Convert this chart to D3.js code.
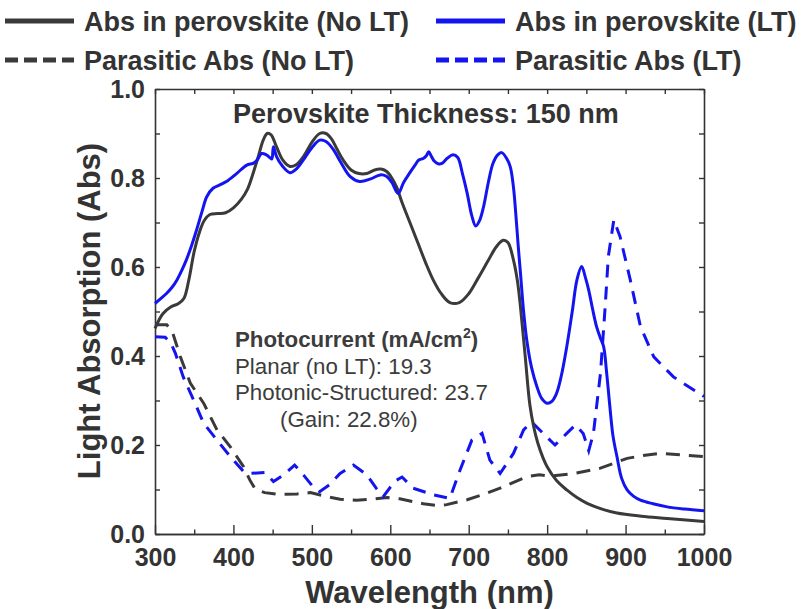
<!DOCTYPE html>
<meta charset="utf-8">
<script src="https://d3js.org/d3.v7.min.js"></script>
<style>
  body { margin: 0; background: #fff; }
  text { font-family: "Liberation Sans", Arial, sans-serif; fill: #333; }
</style>
<div id="my_dataviz"></div>
<script>

  // wavelength (nm), absorption pairs
  var absNoLT = [[300,0.462],[310,0.495],[320,0.51],[330,0.518],[337,0.53],[343,0.57],[350,0.635],[357,0.68],[363,0.705],[370,0.718],[380,0.72],[390,0.722],[400,0.733],[410,0.752],[418,0.775],[425,0.81],[432,0.85],[438,0.885],[443,0.9],[448,0.897],[455,0.87],[463,0.84],[472,0.826],[480,0.83],[490,0.85],[500,0.88],[510,0.9],[518,0.9],[525,0.888],[532,0.865],[540,0.84],[550,0.818],[560,0.81],[570,0.81],[580,0.818],[588,0.82],[595,0.815],[602,0.8],[608,0.78],[615,0.745],[625,0.7],[635,0.655],[645,0.61],[655,0.57],[665,0.54],[676,0.52],[688,0.52],[700,0.54],[712,0.575],[725,0.615],[735,0.645],[744,0.66],[750,0.655],[757,0.616],[762,0.57],[766,0.51],[772,0.4],[778,0.29],[783,0.24],[788,0.205],[795,0.17],[800,0.151],[812,0.12],[825,0.099],[838,0.082],[851,0.069],[870,0.056],[889,0.047],[920,0.04],[953,0.035],[1000,0.028]];

  var absLT = [[300,0.518],[308,0.53],[315,0.541],[322,0.555],[328,0.571],[334,0.592],[340,0.616],[347,0.65],[353,0.683],[360,0.725],[366,0.758],[374,0.777],[382,0.784],[391,0.792],[404,0.81],[417,0.829],[425,0.833],[430,0.84],[436,0.855],[442,0.852],[447,0.845],[449,0.843],[451,0.87],[455,0.848],[462,0.828],[472,0.812],[480,0.82],[489,0.84],[500,0.868],[510,0.885],[518,0.882],[527,0.865],[537,0.835],[549,0.803],[561,0.792],[575,0.798],[587,0.807],[595,0.804],[602,0.79],[610,0.765],[617,0.79],[625,0.812],[632,0.83],[636,0.84],[642,0.844],[646,0.85],[649,0.859],[652,0.85],[656,0.838],[661,0.832],[666,0.833],[673,0.845],[680,0.852],[686,0.846],[692,0.81],[698,0.766],[704,0.715],[709,0.692],[714,0.705],[719,0.736],[725,0.79],[731,0.833],[737,0.852],[742,0.857],[748,0.845],[753,0.825],[757,0.78],[760,0.72],[763,0.65],[766,0.586],[770,0.5],[774,0.436],[780,0.375],[787,0.331],[793,0.305],[800,0.294],[806,0.298],[812,0.316],[818,0.355],[825,0.421],[832,0.5],[838,0.571],[844,0.601],[849,0.575],[853,0.548],[858,0.505],[863,0.466],[868,0.44],[872,0.421],[876,0.36],[880,0.286],[884,0.22],[889,0.174],[895,0.125],[902,0.099],[910,0.085],[919,0.076],[935,0.068],[953,0.061],[975,0.056],[1000,0.052]];

  var parNoLT = [[300,0.47],[315,0.47],[322,0.455],[332,0.4],[345,0.339],[362,0.294],[379,0.234],[396,0.196],[413,0.151],[421,0.121],[428,0.1],[440,0.093],[457,0.089],[481,0.09],[498,0.093],[519,0.084],[536,0.078],[557,0.076],[574,0.078],[596,0.082],[612,0.079],[642,0.068],[660,0.064],[672,0.066],[698,0.077],[720,0.09],[740,0.103],[774,0.129],[790,0.133],[804,0.13],[834,0.136],[868,0.148],[902,0.17],[925,0.177],[944,0.181],[970,0.178],[1000,0.174]];

  var parLT = [[300,0.443],[313,0.442],[320,0.43],[326,0.406],[336,0.353],[351,0.294],[362,0.249],[379,0.211],[396,0.174],[413,0.14],[420,0.136],[440,0.138],[451,0.118],[464,0.133],[478,0.155],[491,0.129],[502,0.105],[510,0.095],[522,0.11],[536,0.136],[553,0.155],[570,0.133],[582,0.103],[591,0.084],[600,0.105],[608,0.121],[615,0.128],[629,0.103],[655,0.088],[676,0.08],[689,0.144],[704,0.211],[717,0.226],[727,0.166],[740,0.136],[757,0.181],[770,0.234],[780,0.252],[795,0.226],[810,0.2],[825,0.226],[836,0.245],[846,0.226],[853,0.187],[859,0.226],[868,0.361],[874,0.511],[878,0.623],[885,0.706],[893,0.668],[906,0.571],[919,0.466],[936,0.398],[961,0.353],[1000,0.309]];

  var xMajor = [300, 400, 500, 600, 700, 800, 900, 1000];
  var xMinor = [350, 450, 550, 650, 750, 850, 950];
  var yMajor = [0, 0.2, 0.4, 0.6, 0.8, 1.0];
  var yAll = [0, 0.1, 0.2, 0.3, 0.4, 0.5, 0.6, 0.7, 0.8, 0.9, 1.0];

  var legendLabels = ["Abs in perovskite (No LT)", "Abs in perovskite (LT)",
                      "Parasitic Abs (No LT)", "Parasitic Abs (LT)"];
  var noteLines = ["Planar (no LT): 19.3", "Photonic-Structured: 23.7", "(Gain: 22.8%)"];

  var grey = "#3a3a3a", blue = "#1414f0";

  var svg = d3.select("#my_dataviz")
    .append("svg")
      .attr("width", 801)
      .attr("height", 609);

  var x = d3.scaleLinear().domain([300, 1000]).range([155, 704]);
  var y = d3.scaleLinear().domain([0, 1]).range([534, 89]);

  // axes, all ticks pointing inwards
  function styleAxis(g) {
    g.selectAll("path.domain").attr("stroke", "#333").attr("stroke-width", 1.6);
    g.selectAll(".tick line").attr("stroke", "#333").attr("stroke-width", 1.4);
    g.selectAll(".tick text").attr("fill", "#333")
      .style("font-size", "25px").style("font-weight", "bold")
      .style("font-family", "'Liberation Sans', Arial, sans-serif");
  }

  svg.append("g").attr("transform", "translate(0,534)")
    .call(d3.axisBottom(x).tickValues(xMajor).tickSize(-9).tickSizeOuter(0).tickPadding(14)
      .tickFormat(d3.format("d")))
    .call(styleAxis);
  svg.append("g").attr("transform", "translate(0,534)")
    .call(d3.axisBottom(x).tickValues(xMinor).tickSize(-4.5).tickFormat("").tickSizeOuter(0))
    .call(styleAxis);
  svg.append("g").attr("transform", "translate(0,89)")
    .call(d3.axisTop(x).tickValues(xMajor.concat(xMinor)).tickSize(-5).tickFormat("").tickSizeOuter(0))
    .call(styleAxis);
  svg.append("g").attr("transform", "translate(155,0)")
    .call(d3.axisLeft(y).tickValues(yAll).tickSize(-5).tickSizeOuter(0)
      .tickFormat(function(d) { return yMajor.some(function(m) { return Math.abs(m - d) < 1e-6; }) ? d3.format(".1f")(d) : ""; })
      .tickPadding(10))
    .call(styleAxis);
  svg.append("g").attr("transform", "translate(704,0)")
    .call(d3.axisRight(y).tickValues(yAll).tickSize(-5).tickFormat("").tickSizeOuter(0))
    .call(styleAxis);

  // curves
  var smooth = d3.line()
    .x(function(d) { return x(d[0]); })
    .y(function(d) { return y(d[1]); })
    .curve(d3.curveCatmullRom.alpha(0.5));
  var straight = d3.line()
    .x(function(d) { return x(d[0]); })
    .y(function(d) { return y(d[1]); });

  var plot = svg.append("g");
  plot.append("path").datum(parNoLT).attr("d", straight)
    .attr("fill", "none").attr("stroke", grey).attr("stroke-width", 3).attr("stroke-dasharray", "14,9");
  plot.append("path").datum(parLT).attr("d", straight)
    .attr("fill", "none").attr("stroke", blue).attr("stroke-width", 3).attr("stroke-dasharray", "13,9");
  plot.append("path").datum(absNoLT).attr("d", smooth)
    .attr("fill", "none").attr("stroke", grey).attr("stroke-width", 3);
  plot.append("path").datum(absLT).attr("d", smooth)
    .attr("fill", "none").attr("stroke", blue).attr("stroke-width", 3);

  // legend
  var legendItems = [
    {label: legendLabels[0], color: grey, dash: null, x: 5, y: 21},
    {label: legendLabels[1], color: blue, dash: null, x: 436, y: 21},
    {label: legendLabels[2], color: grey, dash: "13,6", x: 5, y: 60},
    {label: legendLabels[3], color: blue, dash: "13,6", x: 436, y: 60}
  ];
  legendItems.forEach(function(it) {
    svg.append("line")
      .attr("x1", it.x).attr("x2", it.x + 69).attr("y1", it.y).attr("y2", it.y)
      .attr("stroke", it.color).attr("stroke-width", 5)
      .attr("stroke-dasharray", it.dash);
    svg.append("text")
      .attr("x", it.x + 79).attr("y", it.y + 9.5)
      .style("font-size", "27px").style("font-weight", "bold")
      .text(it.label);
  });

  // titles
  svg.append("text")
    .attr("x", 429.5).attr("y", 603)
    .attr("text-anchor", "middle")
    .style("font-size", "31px").style("font-weight", "bold")
    .text("Wavelength (nm)");
  svg.append("text")
    .attr("transform", "translate(100,311) rotate(-90)")
    .attr("text-anchor", "middle")
    .style("font-size", "31px").style("font-weight", "bold")
    .text("Light Absorption (Abs)");
  svg.append("text")
    .attr("x", 233).attr("y", 123)
    .style("font-size", "27px").style("font-weight", "bold")
    .text("Perovskite Thickness: 150 nm");

  // photocurrent note
  var note = svg.append("text")
    .attr("x", 235).attr("y", 347)
    .style("font-size", "22.3px").style("font-weight", "bold").style("fill", "#3c3c3c");
  note.append("tspan").text("Photocurrent (mA/cm");
  note.append("tspan").attr("dy", -9).style("font-size", "14px").text("2");
  note.append("tspan").attr("dy", 9).text(")");

  svg.append("text").attr("x", 235).attr("y", 374)
    .style("font-size", "22.3px").style("fill", "#3c3c3c").text(noteLines[0]);
  svg.append("text").attr("x", 235).attr("y", 400)
    .style("font-size", "22.3px").style("fill", "#3c3c3c").text(noteLines[1]);
  svg.append("text").attr("x", 280).attr("y", 427)
    .style("font-size", "22.3px").style("fill", "#3c3c3c").text(noteLines[2]);

</script>
